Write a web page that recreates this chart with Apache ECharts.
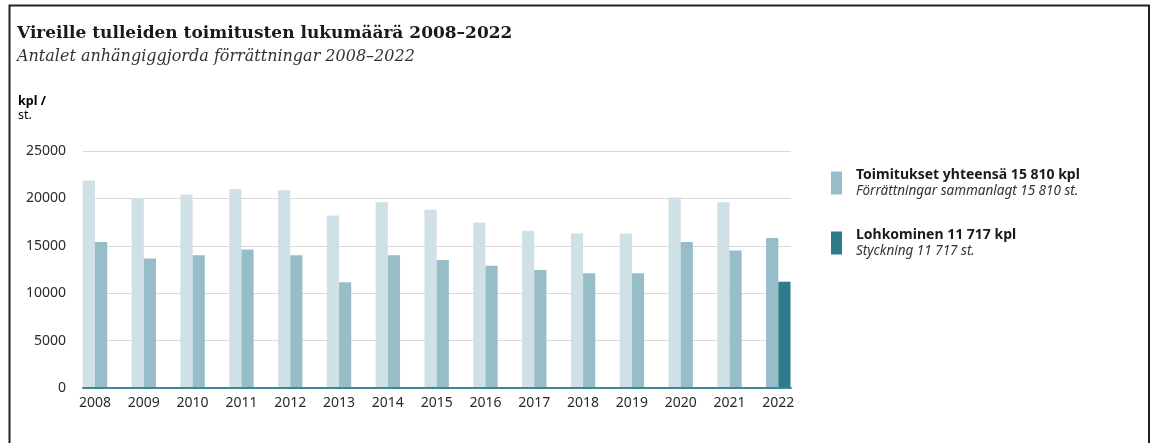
<!DOCTYPE html>
<html>
<head>
<meta charset="utf-8">
<script src="https://cdn.jsdelivr.net/npm/echarts@6/dist/echarts.min.js"></script>
<style>
  html, body { margin: 0; padding: 0; background: #fff; }
  #chart { width: 1152px; height: 443px; }
</style>
</head>
<body>
<div id="chart"></div>
<script>
  // vuodet / år
  var years = ['2008', '2009', '2010', '2011', '2012', '2013', '2014', '2015',
    '2016', '2017', '2018', '2019', '2020', '2021', '2022'];
  // Toimitukset yhteensä
  var totalValues = [21900, 20000, 20400, 21000, 20850, 18200, 19600, 18800,
    17450, 16600, 16300, 16300, 20100, 19600, 15810];
  // Lohkominen
  var splitValues = [15400, 13650, 14000, 14600, 14000, 11150, 14000, 13500,
    12900, 12450, 12100, 12100, 15400, 14500, 11200];
  var yTicks = [0, 5000, 10000, 15000, 20000, 25000];

  var cLight = '#cfe1e6';
  var cMid = '#97bec8';
  var cDark = '#2e7b8e';
  var sans = 'Noto Sans';
  var last = years.length - 1;

  var chart = echarts.init(document.getElementById('chart'));

  var option = {
    animation: false,
    title: {
      text: 'Vireille tulleiden toimitusten lukumäärä 2008–2022',
      subtext: 'Antalet anhängiggjorda förrättningar 2008–2022',
      left: 17,
      top: 25,
      itemGap: 7,
      padding: 0,
      textStyle: {
        fontFamily: 'DejaVu Serif',
        fontWeight: 'bold',
        fontSize: 17,
        color: '#1a1a1a'
      },
      subtextStyle: {
        fontFamily: 'DejaVu Serif',
        fontStyle: 'italic',
        fontSize: 16,
        color: '#333'
      }
    },
    legend: {
      orient: 'vertical',
      left: 826,
      top: 163,
      itemWidth: 11,
      itemHeight: 23,
      itemGap: 30,
      selectedMode: false,
      data: [
        { name: 'Toimitukset', icon: 'rect', itemStyle: { color: cMid } },
        { name: 'Lohkominen', icon: 'rect', itemStyle: { color: cDark } }
      ],
      formatter: function (name) {
        if (name === 'Toimitukset') {
          return '{b|Toimitukset yhteensä 15 810 kpl}\n{i|Förrättningar sammanlagt 15 810 st.}';
        }
        return '{b|Lohkominen 11 717 kpl}\n{i|Styckning 11 717 st.}';
      },
      textStyle: {
        padding: [0, 0, 0, 9],
        rich: {
          b: { fontFamily: sans, fontWeight: 'bold', fontSize: 14, color: '#1a1a1a', lineHeight: 16 },
          i: { fontFamily: sans, fontStyle: 'italic', fontSize: 13.5, color: '#333', lineHeight: 16 }
        }
      }
    },
    graphic: [
      {
        type: 'rect',
        shape: { x: 9.5, y: 5.5, width: 1139.5, height: 460 },
        style: { fill: 'none', stroke: '#222', lineWidth: 2 }
      },
      {
        type: 'text',
        left: 18,
        top: 95,
        style: {
          text: '{b|kpl /}\n{n|st.}',
          rich: {
            b: { fontFamily: sans, fontWeight: 'bold', fontSize: 12.5, color: '#222', lineHeight: 14 },
            n: { fontFamily: sans, fontSize: 12.5, color: '#333', lineHeight: 14 }
          }
        }
      }
    ],
    grid: [
      { left: 83, right: 361, top: 151, bottom: 55 },
      { left: 70.6, right: 349.3, top: 151, bottom: 55 }
    ],
    xAxis: [
      {
        type: 'category',
        gridIndex: 0,
        data: years,
        z: 5,
        axisLine: { lineStyle: { color: '#3d8796', width: 2 } },
        axisTick: { show: false },
        axisLabel: { show: false },
        splitLine: { show: false }
      },
      {
        type: 'category',
        gridIndex: 1,
        data: years,
        axisLine: { show: false },
        axisTick: { show: false },
        axisLabel: { margin: 8, fontFamily: sans, fontSize: 14, color: '#2a2a2a' }
      }
    ],
    yAxis: [
      {
        type: 'value',
        gridIndex: 0,
        min: yTicks[0],
        max: yTicks[yTicks.length - 1],
        interval: 5000,
        axisLine: { show: false },
        axisTick: { show: false },
        axisLabel: {
          margin: 17, fontFamily: sans, fontSize: 14, color: '#2a2a2a',
          formatter: function (v) { return String(v); }
        },
        splitLine: { lineStyle: { color: '#dadada', width: 1 } }
      },
      {
        type: 'value',
        gridIndex: 1,
        min: yTicks[0],
        max: yTicks[yTicks.length - 1],
        interval: 5000,
        show: false,
        splitLine: { show: false }
      }
    ],
    series: [
      {
        name: 'Toimitukset',
        type: 'bar',
        xAxisIndex: 1,
        yAxisIndex: 1,
        data: totalValues,
        barGap: 0,
        barCategoryGap: '50%',
        itemStyle: {
          color: function (p) { return p.dataIndex === last ? cMid : cLight; }
        }
      },
      {
        name: 'Lohkominen',
        type: 'bar',
        xAxisIndex: 1,
        yAxisIndex: 1,
        data: splitValues,
        itemStyle: {
          color: function (p) { return p.dataIndex === last ? cDark : cMid; }
        }
      }
    ]
  };

  chart.setOption(option);
</script>
</body>
</html>
